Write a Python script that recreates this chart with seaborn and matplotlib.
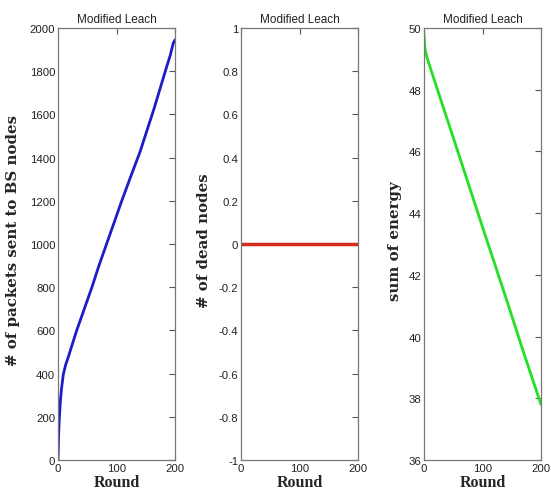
import numpy as np
import pandas as pd
import matplotlib
matplotlib.use("Agg")
import matplotlib.pyplot as plt
import seaborn as sns

# ---------------- DATA ----------------
packet_rounds = [0, 1, 2, 4, 6, 9, 13, 18, 22, 32, 45, 58, 70, 83, 96, 109, 124, 140, 152, 164, 174, 184, 192, 197, 200]
packet_values = [0, 110, 180, 270, 330, 395, 440, 480, 515, 600, 700, 800, 900, 1000, 1100, 1200, 1310, 1425, 1525, 1625, 1715, 1805, 1875, 1930, 1945]

dead_rounds = [0, 50, 100, 150, 200]
dead_values = [0, 0, 0, 0, 0]

energy_rounds = [0, 1, 2, 5, 10, 50, 100, 141, 170, 200]
energy_values = [49.8, 49.5, 49.3, 49.05, 48.75, 46.45, 43.55, 41.2, 39.5, 37.8]

titles = ["Modified Leach", "Modified Leach", "Modified Leach"]
ylabels = ["# of packets sent to BS nodes", "# of dead nodes", "sum of energy"]
xlabel = "Round"

# ---------------- PLOT ----------------
sns.set_style("white")
plt.rcParams["font.family"] = ["Liberation Sans", "DejaVu Sans"]

fig = plt.figure(figsize=(5.51, 5.02), dpi=100)
lefts = [58 / 551, 241 / 551, 424 / 551]
w = 117 / 551
b = 41 / 502
h = 432 / 502
axes = [fig.add_axes([l, b, w, h]) for l in lefts]

df1 = pd.DataFrame({"Round": packet_rounds, "val": packet_values})
df2 = pd.DataFrame({"Round": dead_rounds, "val": dead_values})
df3 = pd.DataFrame({"Round": energy_rounds, "val": energy_values})

sns.lineplot(data=df1, x="Round", y="val", ax=axes[0], color="#1c1cc8", linewidth=2)
sns.lineplot(data=df2, x="Round", y="val", ax=axes[1], color="#d42a1e", linewidth=2.5)
sns.lineplot(data=df3, x="Round", y="val", ax=axes[2], color="#22e022", linewidth=2)

axes[0].set_ylim(0, 2000)
axes[0].set_yticks(np.arange(0, 2001, 200))
axes[1].set_ylim(-1, 1)
axes[1].set_yticks(np.round(np.arange(-1, 1.01, 0.2), 1))
axes[1].set_yticklabels(["-1", "-0.8", "-0.6", "-0.4", "-0.2", "0", "0.2", "0.4", "0.6", "0.8", "1"])
axes[2].set_ylim(36, 50)
axes[2].set_yticks(np.arange(36, 51, 2))

label_x = [-0.325, -0.26, -0.19]
for i, ax in enumerate(axes):
    ax.set_xlim(0, 200)
    ax.set_xticks([0, 100, 200])
    ax.set_title(titles[i], fontsize=8.5, color="#222222", pad=4)
    ax.set_xlabel(xlabel, fontsize=11.5, fontweight="bold", family="Liberation Serif", labelpad=1)
    ax.set_ylabel(ylabels[i], fontsize=10.8, fontweight="bold", family="DejaVu Serif")
    ax.yaxis.set_label_coords(label_x[i], 0.51)
    ax.tick_params(direction="in", length=4, width=0.8, color="#555555",
                   labelsize=8.2, labelcolor="#222222", top=True, right=True, pad=2)
    for s in ax.spines.values():
        s.set_color("#777777")
        s.set_linewidth(0.9)

fig.savefig("out.png", dpi=100)
